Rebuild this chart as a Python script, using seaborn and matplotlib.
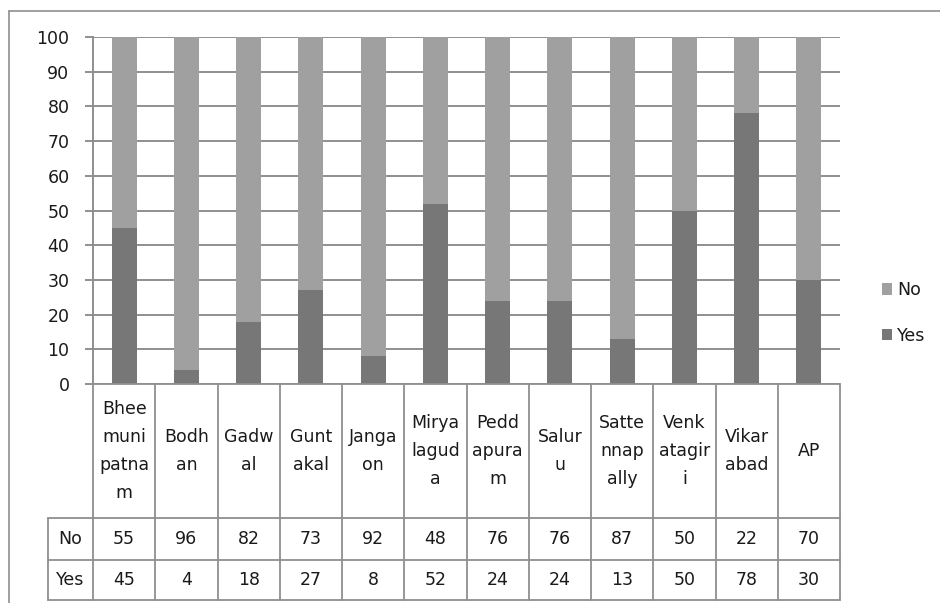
import matplotlib
matplotlib.use("Agg")
import matplotlib.pyplot as plt
from matplotlib.patches import Patch
from matplotlib.lines import Line2D
import numpy as np
import pandas as pd
import seaborn as sns

# Survey responses per location (percent)
places = ["Bheemunipatnam", "Bodhan", "Gadwal", "Guntakal", "Jangaon",
          "Miryaluguda", "Peddapuram", "Saluru", "Sattennapally",
          "Venkatagiri", "Vikarabad", "AP"]
header_labels = ["Bhee\nmuni\npatna\nm", "Bodh\nan", "Gadw\nal", "Gunt\nakal",
                 "Janga\non", "Mirya\nlagud\na", "Pedd\napura\nm", "Salur\nu",
                 "Satte\nnnap\nally", "Venk\natagir\ni", "Vikar\nabad", "AP"]
no_vals = [55, 96, 82, 73, 92, 48, 76, 76, 87, 50, 22, 70]
yes_vals = [45, 4, 18, 27, 8, 52, 24, 24, 13, 50, 78, 30]
yticks = list(range(0, 101, 10))

df = pd.DataFrame({"place": places, "No": no_vals, "Yes": yes_vals})
df["Total"] = df["No"] + df["Yes"]

sns.set_theme(style="white")
plt.rcParams["font.family"] = ["DejaVu Sans"]

W, H = 940, 603
fig = plt.figure(figsize=(W / 100, H / 100), dpi=100)

def fx(px):
    return px / W

def fy(py):
    return 1 - py / H

no_color = "#a0a0a0"
yes_color = "#777777"
line_gray = "#8f8f8f"
text_col = "#1a1a1a"

# Main chart area
x0, x1, ytop, ybot = 93, 840, 37, 384
ax = fig.add_axes([fx(x0), fy(ybot), fx(x1) - fx(x0), fy(ytop) - fy(ybot)])

# Stacked bars: full stack coloured as "No", with "Yes" drawn over the base
sns.barplot(data=df, x="place", y="Total", color=no_color, width=0.4,
            saturation=1, ax=ax, zorder=3)
sns.barplot(data=df, x="place", y="Yes", color=yes_color, width=0.4,
            saturation=1, ax=ax, zorder=4)
for p in ax.patches:
    p.set_linewidth(0)

ax.set_xlim(-0.5, len(places) - 0.5)
ax.set_ylim(0, 100)
ax.set_yticks(yticks)
ax.set_yticklabels([str(t) for t in yticks], fontsize=12.5, color=text_col)
ax.set_xticks([])
ax.set_xlabel("")
ax.set_ylabel("")
ax.yaxis.grid(True, color=line_gray, linewidth=1.4, zorder=0)
ax.set_axisbelow(True)
for s in ["top", "right", "bottom"]:
    ax.spines[s].set_visible(False)
ax.spines["left"].set_color(line_gray)
ax.spines["left"].set_linewidth(1.4)
ax.tick_params(axis="y", which="major", length=6, width=1.4, color=line_gray,
               pad=11, left=True)

# Data table beneath the chart, sharing the category axis
tab_bottom = 600
tab = fig.add_axes([fx(x0), fy(tab_bottom), fx(x1) - fx(x0), fy(ybot) - fy(tab_bottom)],
                   sharex=ax)
tab.set_ylim(0, tab_bottom - ybot)
tab.axis("off")
n = len(places)
left_edge = -0.5 - (x0 - 48) / ((x1 - x0) / n)
y_yes_top = 40
y_no_top = 82
y_head_top = tab_bottom - ybot
lw = 1.3
kw = dict(color=line_gray, linewidth=lw, clip_on=False)

for yy in [0, y_yes_top, y_no_top]:
    tab.plot([left_edge, n - 0.5], [yy, yy], **kw)
tab.plot([-0.5, n - 0.5], [y_head_top, y_head_top], **kw)
tab.plot([left_edge, left_edge], [0, y_no_top], **kw)
for k in range(n + 1):
    tab.plot([k - 0.5, k - 0.5], [0, y_head_top], **kw)

fs = 12.5
for i, lab in enumerate(header_labels):
    tab.text(i, (y_no_top + y_head_top) / 2, lab, ha="center", va="center",
             fontsize=fs, color=text_col, linespacing=1.7, clip_on=False)
    tab.text(i, (y_yes_top + y_no_top) / 2, str(no_vals[i]), ha="center",
             va="center", fontsize=fs, color=text_col, clip_on=False)
    tab.text(i, y_yes_top / 2, str(yes_vals[i]), ha="center", va="center",
             fontsize=fs, color=text_col, clip_on=False)
mid_label_x = (left_edge + (-0.5)) / 2
tab.text(mid_label_x, (y_yes_top + y_no_top) / 2, "No", ha="center", va="center",
         fontsize=fs, color=text_col, clip_on=False)
tab.text(mid_label_x, y_yes_top / 2, "Yes", ha="center", va="center",
         fontsize=fs, color=text_col, clip_on=False)

# Legend
handles = [Patch(facecolor=no_color, edgecolor="none", label="No"),
           Patch(facecolor=yes_color, edgecolor="none", label="Yes")]
fig.legend(handles=handles, loc="center left", bbox_to_anchor=(fx(866), fy(313)),
           frameon=False, fontsize=12.5, handlelength=0.6, handleheight=0.6,
           handletextpad=0.3, labelspacing=1.6, labelcolor=text_col)

# Outer chart border
fig.add_artist(Line2D([fx(9), fx(W)], [fy(11), fy(11)], color=line_gray, linewidth=1.2))
fig.add_artist(Line2D([fx(9), fx(9)], [fy(11), fy(H)], color=line_gray, linewidth=1.2))

fig.savefig("out.png", dpi=100)
